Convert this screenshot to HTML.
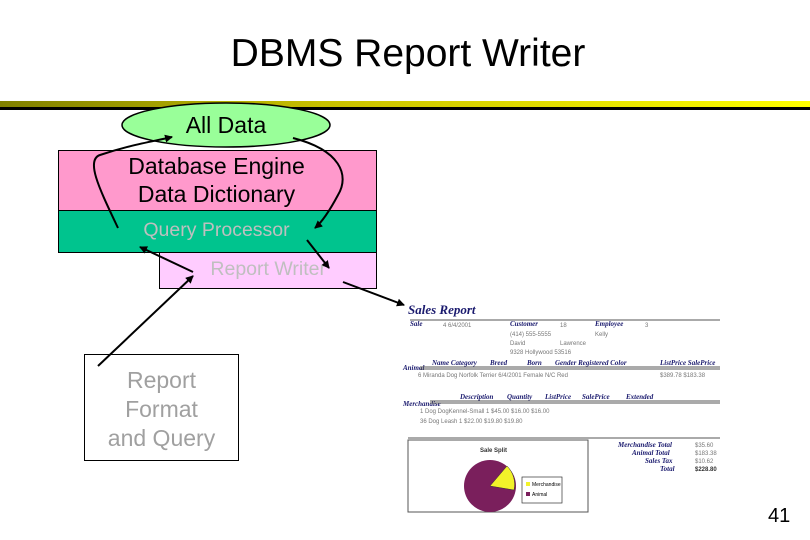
<!DOCTYPE html>
<html><head><style>
body{margin:0;width:810px;height:540px;background:#fff;overflow:hidden;font-family:"Liberation Sans",sans-serif;position:relative}
.a{position:absolute}
</style></head><body>
<div class="a" style="left:0;top:32px;width:816px;text-align:center;font-size:39px;color:#000">DBMS Report Writer</div>
<div class="a" style="left:0;top:101px;width:810px;height:6px;background:linear-gradient(to right,#808000,#c8c000 40%,#ffff00 100%)"></div>
<div class="a" style="left:0;top:107px;width:810px;height:3px;background:#000"></div>
<div class="a" style="left:58px;top:150px;width:317px;height:60px;background:#ff99cc;border:1px solid #000"></div>
<div class="a" style="left:58px;top:210px;width:317px;height:41px;background:#00c48e;border:1px solid #000"></div>
<div class="a" style="left:159px;top:252px;width:216px;height:35px;background:#ffccff;border:1px solid #000"></div>
<div class="a" style="left:58px;top:152px;width:317px;text-align:center;font-size:23px;line-height:28px;color:#000">Database Engine<br>Data Dictionary</div>
<div class="a" style="left:58px;top:219px;width:317px;text-align:center;font-size:19.5px;color:#bfbfbf">Query Processor</div>
<div class="a" style="left:160px;top:258px;width:215px;text-align:right;font-size:19.5px;color:#bfbfbf"><span style="margin-right:49px">Report Writer</span></div>
<div class="a" style="left:84px;top:354px;width:155px;height:107px;border:1px solid #000;background:#fff;text-align:center;font-size:23px;line-height:29px;color:#a0a0a0;padding-top:11px;box-sizing:border-box">Report<br>Format<br>and Query</div>
<svg class="a" style="left:0;top:0" width="810" height="540">
<defs><marker id="m" markerWidth="8" markerHeight="8" refX="7" refY="4" orient="auto" markerUnits="userSpaceOnUse"><path d="M0,0 L8,4 L0,8 z" fill="#000"/></marker></defs>
<ellipse cx="226" cy="125" rx="104" ry="22" fill="#99ff99" stroke="#000" stroke-width="1.5"/>
<text x="226" y="133" font-size="23" text-anchor="middle" font-family="Liberation Sans">All Data</text>
<g stroke="#000" stroke-width="2" fill="none" marker-end="url(#m)">
<path d="M118,228 C100,190 85,160 100,155 C130,145 150,142 172,137"/>
<path d="M293,138 C340,150 350,175 338,195 C330,210 322,222 315,228"/>
<path d="M193,272 L140,247"/>
<path d="M307,240 L329,268"/>
<path d="M343,282 L404,305"/>
<path d="M98,366 L193,276"/>
</g>
<g font-family="Liberation Serif" font-style="italic" font-weight="bold" fill="#1a1a6e">
<text x="408" y="314" font-size="13">Sales Report</text>
<text x="410" y="326" font-size="7">Sale</text><text x="510" y="326" font-size="7">Customer</text><text x="595" y="326" font-size="7">Employee</text>
<text x="432" y="365" font-size="7">Name Category</text><text x="490" y="365" font-size="7">Breed</text><text x="527" y="365" font-size="7">Born</text><text x="555" y="365" font-size="7">Gender Registered Color</text><text x="660" y="365" font-size="7">ListPrice SalePrice</text>
<text x="403" y="370" font-size="7">Animal</text>
<text x="460" y="399" font-size="7">Description</text><text x="507" y="399" font-size="7">Quantity</text><text x="545" y="399" font-size="7">ListPrice</text><text x="582" y="399" font-size="7">SalePrice</text><text x="626" y="399" font-size="7">Extended</text>
<text x="403" y="406" font-size="7">Merchandise</text>
<text x="618" y="447" font-size="7">Merchandise Total</text><text x="632" y="455" font-size="7">Animal Total</text><text x="645" y="463" font-size="7">Sales Tax</text><text x="660" y="471" font-size="7">Total</text>
</g>
<g stroke="#555" stroke-width="1"><line x1="410" y1="320" x2="720" y2="320"/><line x1="420" y1="367" x2="720" y2="367"/><line x1="420" y1="369" x2="720" y2="369"/><line x1="430" y1="401" x2="720" y2="401"/><line x1="430" y1="403" x2="720" y2="403"/><line x1="408" y1="438" x2="720" y2="438"/></g>
<g fill="#777" font-size="6" font-family="Liberation Sans">
<text x="443" y="327">4  6/4/2001</text><text x="560" y="327">18</text><text x="645" y="327">3</text>
<text x="510" y="336">(414) 555-5555</text><text x="595" y="336">Kelly</text><text x="510" y="345">David</text><text x="560" y="345">Lawrence</text><text x="510" y="354">9328 Hollywood    53516</text>
<text x="418" y="377">6 Miranda   Dog   Norfolk Terrier  6/4/2001   Female  N/C  Red</text><text x="660" y="377">$389.78  $183.38</text>
<text x="420" y="413">1 Dog   DogKennel-Small   1   $45.00   $16.00   $16.00</text>
<text x="420" y="423">36 Dog   Leash          1   $22.00   $19.80   $19.80</text>
<text x="695" y="447">$35.60</text><text x="695" y="455">$183.38</text><text x="695" y="463">$10.62</text><text x="695" y="471" font-weight="bold" fill="#333">$228.80</text>
</g>
<rect x="408" y="440" width="180" height="72" fill="#fff" stroke="#555"/>
<text x="480" y="452" font-size="6" font-weight="bold" font-family="Liberation Sans" fill="#333">Sale Split</text>
<circle cx="490" cy="486" r="26" fill="#7a1f5c"/>
<path d="M490,486 L507,466 A26,26 0 0 1 514,490 z" fill="#f2f22a" stroke="#333" stroke-width="0.5"/>
<rect x="522" y="477" width="40" height="26" fill="#fff" stroke="#333" stroke-width="0.7"/>
<rect x="526" y="482" width="4" height="4" fill="#f2f22a"/><text x="532" y="486" font-size="5" font-family="Liberation Sans">Merchandise</text>
<rect x="526" y="492" width="4" height="4" fill="#7a1f5c"/><text x="532" y="496" font-size="5" font-family="Liberation Sans">Animal</text>
<text x="768" y="522" font-size="20" font-family="Liberation Sans">41</text>
</svg>
</body></html>
